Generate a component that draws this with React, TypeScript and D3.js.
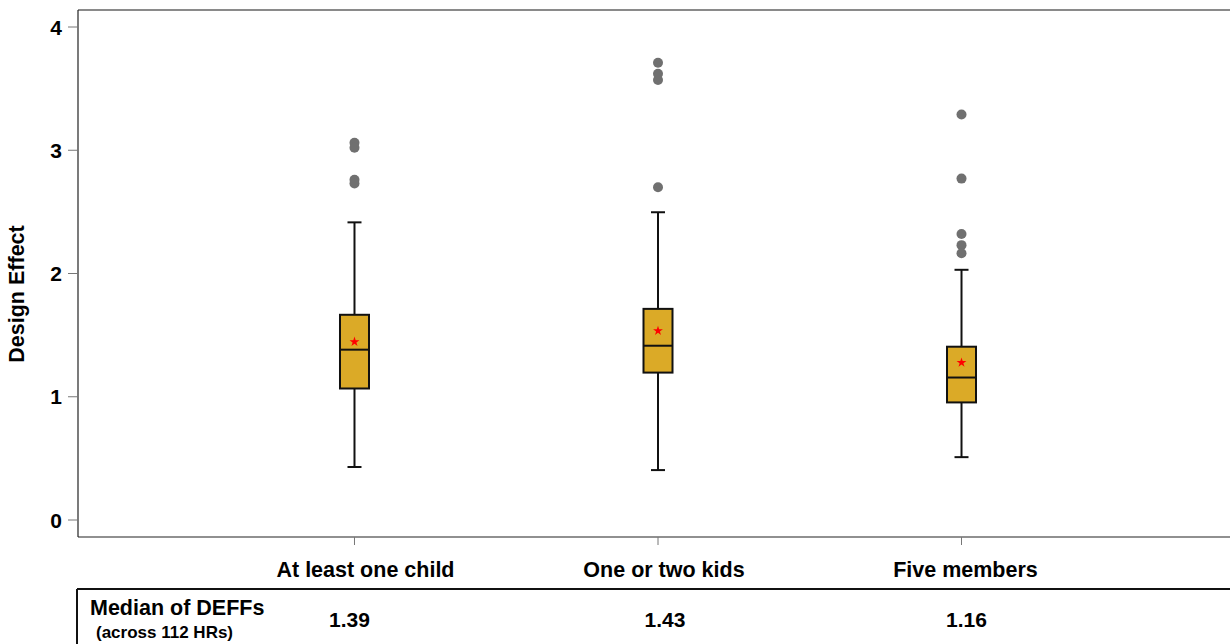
import React from "react";
import * as d3 from "d3";

const categories = ["At least one child", "One or two kids", "Five members"];
const q1 = [1.067, 1.196, 0.954];
const medians = [1.382, 1.414, 1.156];
const q3 = [1.665, 1.713, 1.406];
const means = [1.446, 1.535, 1.277];
const whiskerLow = [0.43, 0.405, 0.51];
const whiskerHigh = [2.415, 2.497, 2.03];
const outliers = [
  [3.06, 3.02, 2.76, 2.73],
  [3.71, 3.62, 3.57, 2.7],
  [3.29, 2.77, 2.32, 2.23, 2.165],
];
const yTicks = [0, 1, 2, 3, 4];
const tableMedians = ["1.39", "1.43", "1.16"];
const tableOffsets = [-5, 7, 5];
const labelOffsets = [11, 6, 4];

const W = 1230;
const H = 644;
const FONT = "'Liberation Sans', Arial, Helvetica, sans-serif";

export default function App() {
  const left = 78;
  const top = 10;
  const bottom = 537;
  const y = d3.scaleLinear().domain([0, 4]).range([520, 27]);
  const x = d3
    .scalePoint<string>()
    .domain(categories)
    .range([78, 1238])
    .padding(0.911);
  const boxW = 29;
  const capW = 14;
  const star = d3.symbol().type(d3.symbolStar).size(30)();

  return (
    <svg
      width={W}
      height={H}
      style={{ position: "absolute", left: 0, top: 0, background: "#fff" }}
      fontFamily={FONT}
    >
      {/* frame */}
      <line x1={left} x2={W} y1={top} y2={top} stroke="#8a8a8a" strokeWidth={2} />
      <line x1={left} x2={left} y1={top} y2={bottom} stroke="#222" strokeWidth={1.2} />
      <line x1={left} x2={W} y1={bottom} y2={bottom} stroke="#222" strokeWidth={1.2} />

      {/* y axis */}
      {yTicks.map((t) => (
        <g key={t}>
          <line x1={68} x2={left} y1={y(t)} y2={y(t)} stroke="#777" strokeWidth={1} />
          <text
            x={62}
            y={y(t) + 7.5}
            textAnchor="end"
            fontSize={21}
            fontWeight="bold"
            fill="#000"
          >
            {t}
          </text>
        </g>
      ))}
      <text
        transform={`translate(24, 294) rotate(-90)`}
        textAnchor="middle"
        fontSize={21.5}
        fontWeight="bold"
        fill="#000"
      >
        Design Effect
      </text>

      {/* x axis */}
      {categories.map((c, i) => (
        <g key={c}>
          <line x1={x(c)} x2={x(c)} y1={bottom} y2={545} stroke="#777" strokeWidth={1} />
          <text
            x={(x(c) as number) + labelOffsets[i]}
            y={577}
            textAnchor="middle"
            fontSize={21.5}
            fontWeight="bold"
            fill="#000"
          >
            {c}
          </text>
        </g>
      ))}

      {/* boxes */}
      {categories.map((c, i) => {
        const cx = x(c) as number;
        return (
          <g key={"b" + c}>
            <line x1={cx} x2={cx} y1={y(q3[i])} y2={y(whiskerHigh[i])} stroke="#111" strokeWidth={2} />
            <line x1={cx} x2={cx} y1={y(q1[i])} y2={y(whiskerLow[i])} stroke="#111" strokeWidth={2} />
            <line x1={cx - capW / 2} x2={cx + capW / 2} y1={y(whiskerHigh[i])} y2={y(whiskerHigh[i])} stroke="#111" strokeWidth={2} />
            <line x1={cx - capW / 2} x2={cx + capW / 2} y1={y(whiskerLow[i])} y2={y(whiskerLow[i])} stroke="#111" strokeWidth={2} />
            <rect
              x={cx - boxW / 2}
              y={y(q3[i])}
              width={boxW}
              height={y(q1[i]) - y(q3[i])}
              fill="#DBAA27"
              stroke="#111"
              strokeWidth={2}
            />
            <line x1={cx - boxW / 2} x2={cx + boxW / 2} y1={y(medians[i])} y2={y(medians[i])} stroke="#111" strokeWidth={2} />
            <path d={star || ""} transform={`translate(${cx},${y(means[i])})`} fill="#ff0000" />
            {outliers[i].map((o, j) => (
              <circle key={j} cx={cx} cy={y(o)} r={5} fill="#707070" />
            ))}
          </g>
        );
      })}

      {/* table */}
      <line x1={77} x2={W} y1={589} y2={589} stroke="#111" strokeWidth={2} />
      <line x1={77} x2={77} y1={589} y2={H} stroke="#111" strokeWidth={2} />
      <text x={90} y={615} fontSize={21.5} fontWeight="bold" fill="#000">
        Median of DEFFs
      </text>
      <text x={96} y={638} fontSize={17} fontWeight="bold" fill="#000">
        (across 112 HRs)
      </text>
      {categories.map((c, i) => (
        <text
          key={"m" + c}
          x={(x(c) as number) + tableOffsets[i]}
          y={627}
          textAnchor="middle"
          fontSize={21}
          fontWeight="bold"
          fill="#000"
        >
          {tableMedians[i]}
        </text>
      ))}
    </svg>
  );
}
